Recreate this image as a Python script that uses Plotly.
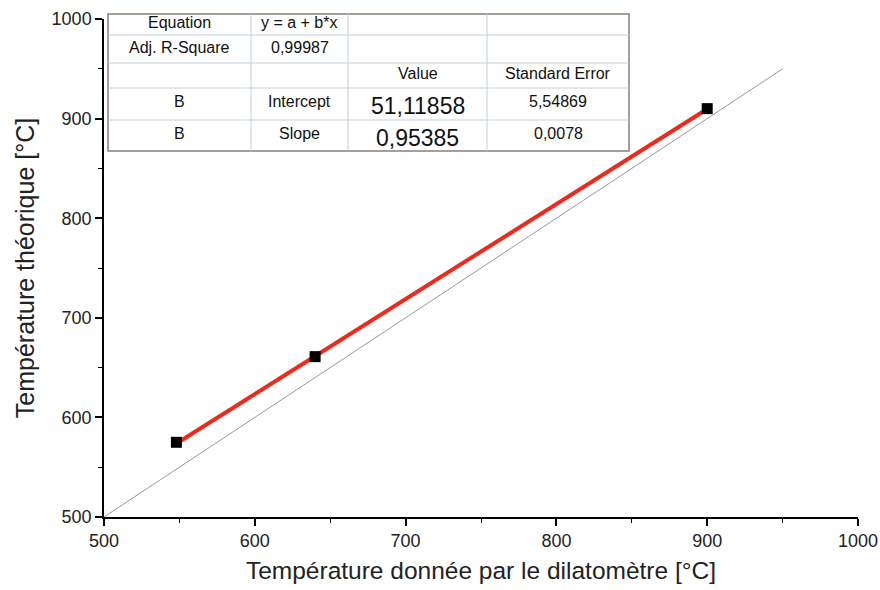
import plotly.graph_objects as go

# Measured points
x_dilato = [548, 640, 900]
y_theo = [575, 661, 910]

# Linear fit y = a + b*x
intercept = 51.11858
slope = 0.95385
fit_x = [548, 900]
fit_y = [intercept + slope * v for v in fit_x]

# Reference line y = x
ref_x = [500, 950]
ref_y = [500, 950]

# Fit summary table (rows of cells)
table_rows = [
    ["Equation", "y = a + b*x", "", ""],
    ["Adj. R-Square", "0,99987", "", ""],
    ["", "", "Value", "Standard Error"],
    ["B", "Intercept", "51,11858", "5,54869"],
    ["B", "Slope", "0,95385", "0,0078"],
]

FONT = "Liberation Sans, Arial, sans-serif"

fig = go.Figure()
fig.add_trace(go.Scatter(x=ref_x, y=ref_y, mode="lines",
                         line=dict(color="#8f9ca4", width=1), hoverinfo="skip"))
fig.add_trace(go.Scatter(x=fit_x, y=fit_y, mode="lines",
                         line=dict(color="#ee2a1c", width=4)))
fig.add_trace(go.Scatter(x=x_dilato, y=y_theo, mode="markers",
                         marker=dict(symbol="square", size=11, color="black",
                                     line=dict(width=0))))

# Table geometry in pixels -> paper coordinates
L, R, T, B = 104, 858, 19, 517
def px(v):
    return (v - L) / (R - L)
def py(v):
    return (B - v) / (B - T)

col_edges = [108, 251, 348, 487, 629]
row_edges = [14, 35, 63, 88, 120, 151]

shapes = []
shapes.append(dict(type="rect", xref="paper", yref="paper",
                   x0=px(col_edges[0]), x1=px(col_edges[-1]),
                   y0=py(row_edges[-1]), y1=py(row_edges[0]),
                   fillcolor="white", line=dict(color="#8c7e76", width=1.5),
                   layer="above"))
for c in col_edges[1:-1]:
    shapes.append(dict(type="line", xref="paper", yref="paper",
                       x0=px(c), x1=px(c), y0=py(row_edges[-1]), y1=py(row_edges[0]),
                       line=dict(color="#c3d0da", width=1), layer="above"))
for r in row_edges[1:-1]:
    shapes.append(dict(type="line", xref="paper", yref="paper",
                       x0=px(col_edges[0]), x1=px(col_edges[-1]), y0=py(r), y1=py(r),
                       line=dict(color="#c3d0da", width=1), layer="above"))

annotations = []
for i, row in enumerate(table_rows):
    yc = (row_edges[i] + row_edges[i + 1]) / 2
    for j, txt in enumerate(row):
        if not txt:
            continue
        xc = (col_edges[j] + col_edges[j + 1]) / 2
        big = (j == 2 and i >= 3)
        annotations.append(dict(
            x=px(xc), y=py(yc + (2 if big else -2)), xref="paper", yref="paper",
            text=txt, showarrow=False, xanchor="center", yanchor="middle",
            font=dict(family=FONT, size=23 if big else 16, color="#111")))

axis_common = dict(
    range=[500, 1000], dtick=100, showgrid=False, zeroline=False,
    showline=True, linecolor="black", linewidth=1.5, automargin=False,
    ticks="outside", ticklen=7, tickwidth=1.5, tickcolor="black",
    tickfont=dict(family=FONT, size=18, color="#222"),
    minor=dict(dtick=50, ticks="outside", ticklen=4, tickwidth=1.2, tickcolor="black"),
)

fig.update_layout(
    width=880, height=590,
    margin=dict(l=L, r=880 - R, t=T, b=590 - B),
    paper_bgcolor="white", plot_bgcolor="white",
    showlegend=False,
    xaxis=dict(axis_common,
               title=dict(text="Température donnée par le dilatomètre [°C]",
                          font=dict(family=FONT, size=24.5, color="#222"), standoff=12)),
    yaxis=dict(axis_common,
               title=dict(text="Température théorique [°C]",
                          font=dict(family=FONT, size=25, color="#222"), standoff=10)),
    shapes=shapes,
    annotations=annotations,
)

fig.write_html("out.html")
